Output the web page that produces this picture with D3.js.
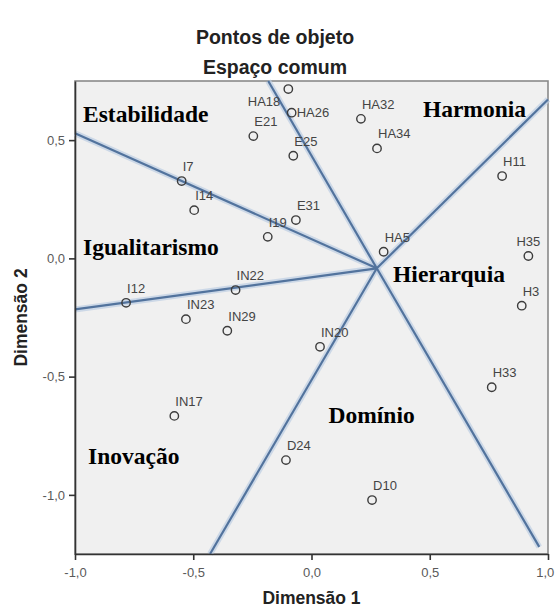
<!DOCTYPE html>
<html>
<head>
<meta charset="utf-8">
<script src="https://cdn.jsdelivr.net/npm/d3@7"></script>
<style>
  body { margin: 0; background: #fff; }
  .axis text { font-family: "Liberation Sans", Arial, sans-serif; font-size: 13px; fill: #5a5a5a; }
  .axis path, .axis line { stroke: #333; stroke-width: 1.6; }
</style>
</head>
<body>
<div id="Chart"></div>
<script>
// object points (dimension 1 / dimension 2)
var pointLabels = ["HA18", "HA26", "E21", "E25", "HA32", "HA34", "H11", "I7", "I14", "E31", "I19", "HA5",
                   "H35", "H3", "I12", "IN22", "IN23", "IN29", "IN20", "H33", "IN17", "D24", "D10"];
var dim1 = [-0.098, -0.084, -0.246, -0.077, 0.209, 0.277, 0.806, -0.549, -0.496, -0.066, -0.185, 0.305,
            0.917, 0.889, -0.784, -0.321, -0.531, -0.356, 0.036, 0.762, -0.580, -0.108, 0.256];
var dim2 = [0.716, 0.616, 0.517, 0.434, 0.590, 0.465, 0.348, 0.327, 0.204, 0.162, 0.091, 0.028,
            0.010, -0.200, -0.188, -0.134, -0.257, -0.306, -0.374, -0.545, -0.666, -0.853, -1.022];

// the region borders all start from one hub
var hub = [0.276, -0.042];
var borderEndX = [-1.0, -1.0, -0.183, 1.0, -0.429, 0.963];
var borderEndY = [0.529, -0.216, 0.75, 0.672, -1.25, -1.22];

// region names and where they sit (data units, left/baseline)
var regionNames = ["Estabilidade", "Harmonia", "Igualitarismo", "Hierarquia", "Domínio", "Inovação"];
var regionX = [-0.966, 0.471, -0.966, 0.345, 0.072, -0.945];
var regionY = [0.576, 0.597, 0.014, -0.100, -0.695, -0.869];

var xTicks = [-1.0, -0.5, 0.0, 0.5, 1.0];
var yTicks = [-1.0, -0.5, 0.0, 0.5];

var width = 556, height = 610;
var margin = { top: 81, right: 8, bottom: 56, left: 75 };

var svg = d3.select("#Chart").append("svg")
    .attr("width", width)
    .attr("height", height);

var x = d3.scaleLinear().domain([-1, 1]).range([margin.left, width - margin.right]);
var y = d3.scaleLinear().domain([-1.25, 0.75]).range([height - margin.bottom, margin.top]);

// comma decimals, plain hyphen minus
var fmt = d3.formatLocale({ decimal: ",", thousands: ".", grouping: [3], currency: ["", ""], minus: "-" }).format(".1f");

// titles
svg.append("text")
    .attr("x", 275).attr("y", 44)
    .attr("text-anchor", "middle")
    .style("font-family", "Liberation Sans, Arial, sans-serif")
    .style("font-weight", "bold")
    .style("font-size", "19.5px")
    .style("fill", "#222")
    .text("Pontos de objeto");

svg.append("text")
    .attr("x", 275).attr("y", 74)
    .attr("text-anchor", "middle")
    .style("font-family", "Liberation Sans, Arial, sans-serif")
    .style("font-weight", "bold")
    .style("font-size", "19.5px")
    .style("fill", "#222")
    .text("Espaço comum");

// plot background + frame
svg.append("rect")
    .attr("x", x(-1)).attr("y", y(0.75))
    .attr("width", x(1) - x(-1))
    .attr("height", y(-1.25) - y(0.75))
    .style("fill", "#f0f0f0")
    .style("stroke", "#8a8a8a")
    .style("stroke-width", 1.6);

var plot = svg.append("g");

// region borders: light halo first, then the line itself
var borders = borderEndX.map(function (d, i) { return { x2: d, y2: borderEndY[i] }; });

plot.selectAll(".halo")
    .data(borders)
    .enter()
    .append("line")
    .attr("class", "halo")
    .attr("x1", x(hub[0])).attr("y1", y(hub[1]))
    .attr("x2", function (d) { return x(d.x2); })
    .attr("y2", function (d) { return y(d.y2); })
    .style("stroke", "#bccde2")
    .style("stroke-width", 6)
    .style("stroke-opacity", 0.7);

plot.selectAll(".border")
    .data(borders)
    .enter()
    .append("line")
    .attr("class", "border")
    .attr("x1", x(hub[0])).attr("y1", y(hub[1]))
    .attr("x2", function (d) { return x(d.x2); })
    .attr("y2", function (d) { return y(d.y2); })
    .style("stroke", "#52739d")
    .style("stroke-width", 2.2);

// points
var points = pointLabels.map(function (d, i) { return { label: d, d1: dim1[i], d2: dim2[i] }; });

plot.selectAll(".pt")
    .data(points)
    .enter()
    .append("circle")
    .attr("class", "pt")
    .attr("cx", function (d) { return x(d.d1); })
    .attr("cy", function (d) { return y(d.d2); })
    .attr("r", 4.2)
    .style("fill", "none")
    .style("stroke", "#3c3c3c")
    .style("stroke-width", 1.4);

// SPSS moves a few labels so they don't collide
var moved = { "HA18": "belowleft", "HA26": "right", "H35": "above" };

plot.selectAll(".ptlabel")
    .data(points)
    .enter()
    .append("text")
    .attr("class", "ptlabel")
    .attr("x", function (d) {
        var m = moved[d.label];
        if (m == "belowleft") return x(d.d1) - 8;
        if (m == "right") return x(d.d1) + 5;
        if (m == "above") return x(d.d1);
        return x(d.d1) + 1;
    })
    .attr("y", function (d) {
        var m = moved[d.label];
        if (m == "belowleft") return y(d.d2) + 17;
        if (m == "right") return y(d.d2) + 4.5;
        return y(d.d2) - 10;
    })
    .attr("text-anchor", function (d) {
        var m = moved[d.label];
        if (m == "belowleft") return "end";
        if (m == "above") return "middle";
        return "start";
    })
    .style("font-family", "Liberation Sans, Arial, sans-serif")
    .style("font-size", "13px")
    .style("fill", "#444")
    .text(function (d) { return d.label; });

// region names
plot.selectAll(".region")
    .data(regionNames)
    .enter()
    .append("text")
    .attr("class", "region")
    .attr("x", function (d, i) { return x(regionX[i]); })
    .attr("y", function (d, i) { return y(regionY[i]); })
    .style("font-family", "Liberation Serif, Times New Roman, serif")
    .style("font-weight", "bold")
    .style("font-size", "23.5px")
    .style("fill", "#000")
    .text(function (d) { return d; });

// axes
svg.append("g")
    .attr("class", "axis")
    .attr("transform", "translate(0," + y(-1.25) + ")")
    .call(d3.axisBottom(x).tickValues(xTicks).tickFormat(fmt).tickSize(6).tickSizeOuter(0).tickPadding(8));

svg.append("g")
    .attr("class", "axis")
    .attr("transform", "translate(" + x(-1) + ",0)")
    .call(d3.axisLeft(y).tickValues(yTicks).tickFormat(fmt).tickSize(6).tickSizeOuter(0).tickPadding(4));

// the last x label hugs the right edge in the original; keep it inside the page
svg.selectAll(".axis text")
    .filter(function (d) { return d === 1; })
    .attr("text-anchor", "end")
    .attr("dx", "0.45em");

// axis titles
svg.append("text")
    .attr("x", x(0)).attr("y", 604)
    .attr("text-anchor", "middle")
    .style("font-family", "Liberation Sans, Arial, sans-serif")
    .style("font-weight", "bold")
    .style("font-size", "17.5px")
    .style("fill", "#222")
    .text("Dimensão 1");

svg.append("text")
    .attr("transform", "translate(27," + y(-0.25) + ") rotate(-90)")
    .attr("text-anchor", "middle")
    .style("font-family", "Liberation Sans, Arial, sans-serif")
    .style("font-weight", "bold")
    .style("font-size", "17.5px")
    .style("fill", "#222")
    .text("Dimensão 2");
</script>
</body>
</html>
